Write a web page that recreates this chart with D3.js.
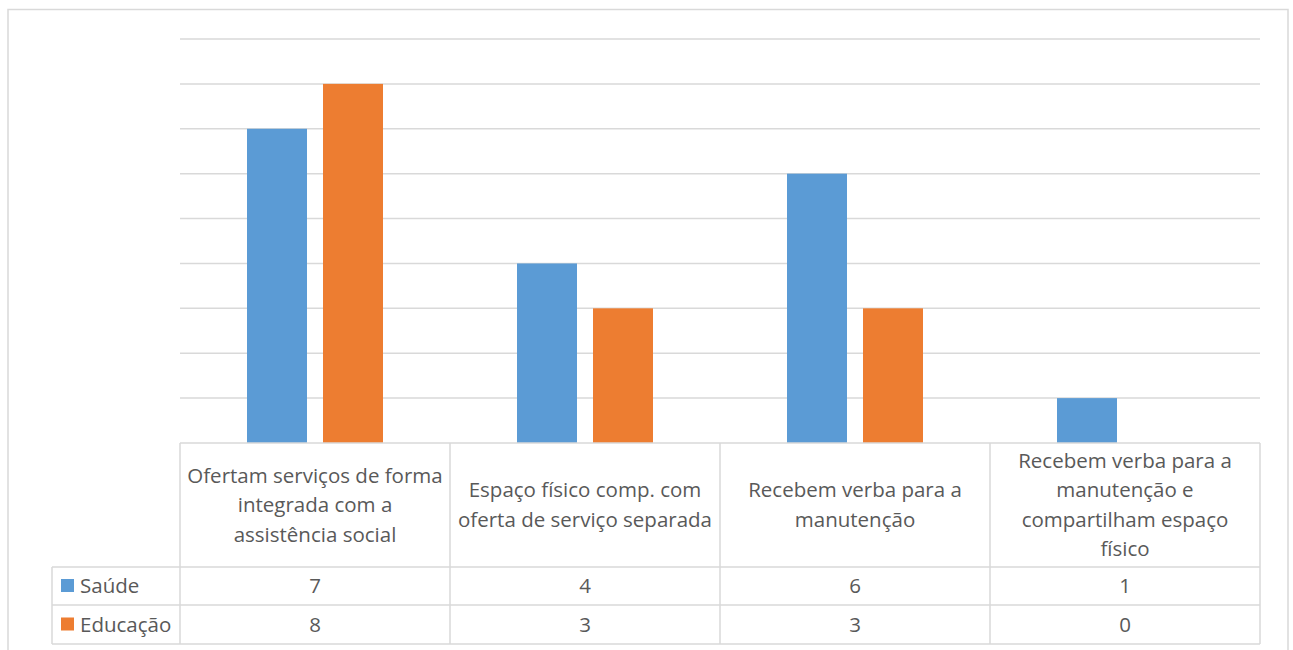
<!DOCTYPE html>
<html>
<head>
<meta charset="utf-8">
<script src="https://cdn.jsdelivr.net/npm/d3@7"></script>
<style>
  body { margin: 0; background: #fff; }
  svg { display: block; }
  text { font-family: "Open Sans", sans-serif; fill: #595959; }
</style>
</head>
<body>
<svg id="chart" width="1293" height="650"></svg>
<script>
  // data
  const categories = [
    ['Ofertam serviços de forma', 'integrada com a', 'assistência social'],
    ['Espaço físico comp. com', 'oferta de serviço separada'],
    ['Recebem verba para a', 'manutenção'],
    ['Recebem verba para a', 'manutenção e', 'compartilham espaço', 'físico']
  ];
  const seriesNames = ['Saúde', 'Educação'];
  const saude = [7, 4, 6, 1];
  const educacao = [8, 3, 3, 0];
  const colors = ['#5B9BD5', '#ED7D31'];
  const yTicks = d3.range(0, 10);

  const series = [saude, educacao];
  const svg = d3.select('#chart');
  const gridColor = '#d9d9d9';
  const fontSize = 20.5;

  // outer frame
  svg.append('rect')
     .attr('x', 8).attr('y', 9.5)
     .attr('width', 1280).attr('height', 660)
     .attr('fill', 'none')
     .attr('stroke', gridColor)
     .attr('stroke-width', 1.5);

  const plotLeft = 180, plotRight = 1260, plotTop = 39, base = 443;
  const x = d3.scaleBand().domain(d3.range(categories.length)).range([plotLeft, plotRight]);
  const y = d3.scaleLinear().domain([0, 9]).range([base, plotTop]);

  // gridlines
  svg.append('g').selectAll('line')
     .data(yTicks.filter(d => d > 0))
     .enter().append('line')
     .attr('x1', plotLeft).attr('x2', plotRight)
     .attr('y1', d => y(d)).attr('y2', d => y(d))
     .attr('stroke', gridColor)
     .attr('stroke-width', 1.5);

  // bars
  const barW = 60, gap = 16;
  series.forEach((vals, s) => {
    svg.append('g').selectAll('rect')
       .data(vals)
       .enter().append('rect')
       .attr('x', (d, i) => x(i) + x.bandwidth() / 2 + (s === 0 ? -gap / 2 - barW : gap / 2))
       .attr('y', d => y(d))
       .attr('width', barW)
       .attr('height', d => base - y(d))
       .attr('fill', colors[s]);
  });

  // data table
  const rowTops = [base, 567, 605, 644];
  const legLeft = 52;
  const table = svg.append('g')
                   .attr('stroke', gridColor)
                   .attr('stroke-width', 1.5);
  table.append('line').attr('x1', plotLeft).attr('x2', plotRight).attr('y1', base).attr('y2', base);
  rowTops.slice(1).forEach(yy => {
    table.append('line').attr('x1', legLeft).attr('x2', plotRight).attr('y1', yy).attr('y2', yy);
  });
  table.append('line').attr('x1', legLeft).attr('x2', legLeft).attr('y1', rowTops[1]).attr('y2', rowTops[3]);
  d3.range(categories.length + 1).forEach(i => {
    const xx = i < categories.length ? x(i) : plotRight;
    table.append('line').attr('x1', xx).attr('x2', xx).attr('y1', base).attr('y2', rowTops[3]);
  });

  // category labels
  const lineH = 29.5;
  categories.forEach((lines, i) => {
    const cy = (rowTops[0] + rowTops[1]) / 2;
    const t = svg.append('text')
                 .attr('text-anchor', 'middle')
                 .attr('font-size', fontSize);
    lines.forEach((ln, k) => {
      t.append('tspan')
       .attr('x', x(i) + x.bandwidth() / 2)
       .attr('y', cy + (k - (lines.length - 1) / 2) * lineH)
       .attr('dy', '0.35em')
       .text(ln);
    });
  });

  // value rows + legend
  series.forEach((vals, s) => {
    const cy = (rowTops[s + 1] + rowTops[s + 2]) / 2;
    svg.append('rect')
       .attr('x', 61).attr('y', cy - 7)
       .attr('width', 13).attr('height', 13)
       .attr('fill', colors[s]);
    svg.append('text')
       .attr('x', 80).attr('y', cy)
       .attr('dy', '0.35em')
       .attr('font-size', fontSize)
       .text(seriesNames[s]);
    svg.append('g').selectAll('text')
       .data(vals)
       .enter().append('text')
       .attr('x', (d, i) => x(i) + x.bandwidth() / 2)
       .attr('y', cy)
       .attr('dy', '0.35em')
       .attr('text-anchor', 'middle')
       .attr('font-size', fontSize)
       .text(d => d);
  });
</script>
</body>
</html>
